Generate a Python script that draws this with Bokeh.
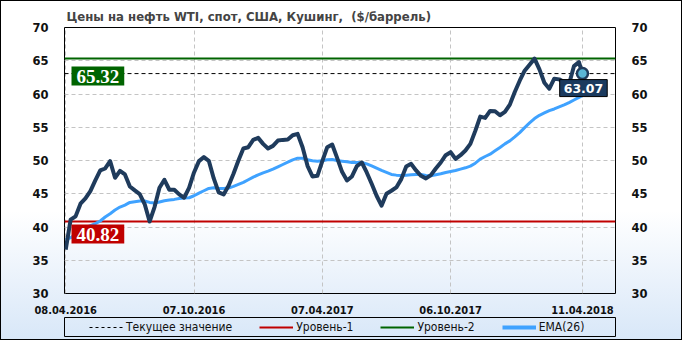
import pandas as pd
from bokeh.plotting import figure
from bokeh.layouts import column
from bokeh.models import (Range1d, LinearAxis, FixedTicker, DatetimeTickFormatter,
                          Label, Legend, LegendItem)
from bokeh.embed import file_html
from bokeh.resources import INLINE

# ---------------- data ----------------
title_text = "Цены на нефть WTI, спот, США, Кушинг,\u00a0 ($/баррель)"
week_start = "2016-04-08"
n_weeks = 105
last_date = "2018-04-11"

prices = [
    36.6, 41.1, 41.6, 43.5, 44.3, 45.4, 47.0, 48.5, 48.8, 49.9,
    47.4, 48.45, 47.9, 46.1, 45.5, 44.95, 43.45, 40.82, 43.0, 45.9,
    47.1, 45.6, 45.6, 44.9, 44.4, 45.9, 48.2, 49.9, 50.5, 49.95,
    47.3, 45.2, 44.9, 46.2, 48.0, 50.0, 51.8, 52.0, 53.1, 53.4,
    52.5, 51.8, 52.2, 53.0, 53.1, 53.15, 53.8, 54.0, 52.0, 49.2,
    47.6, 47.7, 49.9, 52.0, 52.4, 50.4, 48.3, 47.0, 47.6, 49.15,
    49.7, 48.2, 46.5, 44.7, 43.2, 45.0, 45.45, 45.95, 47.2, 49.1,
    49.5, 48.5, 47.7, 47.3, 47.8, 48.8, 49.7, 50.8, 51.25, 50.25,
    50.8, 51.5, 52.5, 54.45, 56.6, 56.4, 57.45, 57.4, 56.8, 57.3,
    58.4, 60.3, 62.0, 63.5, 64.4, 65.32, 63.7, 61.7, 60.8, 62.3,
    62.2, 61.8, 61.5, 64.2, 64.8,
]
last_price = 63.07

ema26 = [
    38.1, 38.4, 38.9, 39.4, 39.9, 40.2, 40.5, 40.9, 41.5, 42.0,
    42.55, 43.0, 43.3, 43.7, 43.8, 43.9, 43.9, 43.7, 43.6, 43.75,
    43.95, 44.05, 44.15, 44.3, 44.35, 44.4, 44.7, 45.1, 45.45, 45.8,
    45.9, 45.8, 45.8, 45.85, 46.1, 46.4, 46.7, 47.1, 47.5, 47.85,
    48.15, 48.4, 48.7, 49.05, 49.4, 49.75, 50.1, 50.35, 50.35, 50.1,
    49.95, 49.9, 49.95, 50.1, 50.15, 50.0, 49.9, 49.8, 49.7, 49.7,
    49.7, 49.5, 49.2, 48.85, 48.5, 48.2, 47.9, 47.8, 47.75, 47.8,
    47.85, 47.9, 47.9, 47.75, 47.7, 47.85, 48.0, 48.2, 48.35, 48.5,
    48.7, 48.9, 49.15, 49.6, 50.2, 50.6, 50.95, 51.45, 51.95, 52.5,
    52.95, 53.55, 54.2, 54.95, 55.65, 56.3, 56.8, 57.15, 57.5, 57.75,
    58.05, 58.35, 58.7, 59.1, 59.5,
]
last_ema = 59.8

level1 = 40.82
level2 = 65.32

tick_dates = ["2016-04-08", "2016-10-07", "2017-04-07", "2017-10-06", "2018-04-11"]
y_ticks = [30, 35, 40, 45, 50, 55, 60, 65, 70]
legend_labels = ["Текущее значение", "Уровень-1", "Уровень-2", "EMA(26)"]

# ---------------- styles ----------------
C_PRICE = "#1f3b5c"
C_EMA = "#3fa2ff"
C_L1 = "#c00000"
C_L2 = "#006400"
TICK_FONT = "DejaVu Sans"
COND = "DejaVu Sans Condensed"

dates = list(pd.date_range(week_start, periods=n_weeks, freq="7D")) + [pd.Timestamp(last_date)]
y_all = prices + [last_price]
ema_all = ema26 + [last_ema]

x_start = pd.Timestamp("2016-04-06 07:00")
x_end = pd.Timestamp("2018-05-27 21:00")

p = figure(width=682, height=316, x_axis_type="datetime",
           x_range=Range1d(x_start, x_end), y_range=Range1d(30, 70),
           output_backend="svg", toolbar_location=None,
           min_border_left=64, min_border_right=67, min_border_top=27, min_border_bottom=20)
p.border_fill_color = None
p.background_fill_color = None
p.outline_line_color = "black"
p.outline_line_width = 1

p.title.text = title_text
p.title.text_font = COND
p.title.text_font_size = "13px"
p.title.text_font_style = "bold"
p.title.align = "left"
p.title.offset = 2
p.title.standoff = 8

tick_ms = [pd.Timestamp(d).value / 1e6 for d in tick_dates]
xt = FixedTicker(ticks=tick_ms)
p.xaxis.ticker = xt
p.xgrid.ticker = xt
fmt = "%d.%m.%Y"
p.xaxis.formatter = DatetimeTickFormatter(milliseconds=fmt, seconds=fmt, minsec=fmt, minutes=fmt,
                                          hourmin=fmt, hours=fmt, days=fmt, months=fmt, years=fmt)
yt = FixedTicker(ticks=y_ticks)
p.yaxis.ticker = yt
p.ygrid.ticker = yt
p.add_layout(LinearAxis(ticker=yt), "right")

for ax in p.axis:
    ax.axis_line_color = None
    ax.major_tick_line_color = None
    ax.minor_tick_line_color = None
    ax.major_label_text_font = TICK_FONT
    ax.major_label_text_font_style = "bold"
    ax.major_label_text_font_size = "11.5px"
    ax.major_label_text_color = "#111111"
    ax.major_label_standoff = 10
p.xaxis.major_label_text_font = COND
p.xaxis.major_label_text_font_size = "11px"
p.xaxis.major_label_standoff = 6

for g in (p.xgrid, p.ygrid):
    g.grid_line_color = "#c4c4c4"
    g.grid_line_dash = "4 3"
    g.grid_line_width = 1

xs_full = [x_start, x_end]
p.line(xs_full, [level1, level1], line_color=C_L1, line_width=2)
p.line(xs_full, [level2, level2], line_color=C_L2, line_width=2)
p.line(xs_full, [last_price, last_price], line_color="black", line_width=1, line_dash="4 3")
p.line(dates, ema_all, line_color=C_EMA, line_width=3)
p.line(dates, y_all, line_color=C_PRICE, line_width=4, line_join="round")
p.scatter([pd.Timestamp(last_date)], [last_price], size=11, fill_color="#5ab6d6",
          line_color=C_PRICE, line_width=2.5)

p.add_layout(Label(x=x_start, y=level2, x_offset=7, y_offset=-8, text=f"{level2:.2f}",
                   text_font="Liberation Serif", text_font_style="bold", text_font_size="19px",
                   text_color="white", text_align="left", text_baseline="top",
                   background_fill_color=C_L2, padding=(5, 3)))
p.add_layout(Label(x=x_start, y=level1, x_offset=7, y_offset=-3, text=f"{level1:.2f}",
                   text_font="Liberation Serif", text_font_style="bold", text_font_size="19px",
                   text_color="white", text_align="left", text_baseline="top",
                   background_fill_color=C_L1, padding=(5, 3)))
p.add_layout(Label(x=pd.Timestamp(last_date), y=last_price, x_offset=1, y_offset=-6,
                   text=f"{last_price:.2f}",
                   text_font=TICK_FONT, text_font_style="bold", text_font_size="12.5px",
                   text_color="white", text_align="center", text_baseline="top",
                   background_fill_color="#1b3a5e", border_line_color="black", padding=(4, 4)))

# ---------------- legend strip ----------------
q = figure(width=682, height=24, x_range=Range1d(0, 1), y_range=Range1d(0, 1),
           output_backend="svg", toolbar_location=None,
           x_axis_location=None, y_axis_location=None,
           min_border_left=64, min_border_right=67, min_border_top=1, min_border_bottom=4)
q.border_fill_color = None
q.background_fill_color = None
q.outline_line_color = "black"
q.grid.visible = False
off = [2, 3]  # swatch renderers sit outside the strip's range; only the legend shows them
g_cur = q.line(off, off, line_color="black", line_width=1, line_dash="3 3")
g_l1 = q.line(off, off, line_color=C_L1, line_width=2)
g_l2 = q.line(off, off, line_color=C_L2, line_width=2)
g_ema = q.line(off, off, line_color=C_EMA, line_width=4)
legend = Legend(items=[LegendItem(label=legend_labels[0], renderers=[g_cur]),
                       LegendItem(label=legend_labels[1], renderers=[g_l1]),
                       LegendItem(label=legend_labels[2], renderers=[g_l2]),
                       LegendItem(label=legend_labels[3], renderers=[g_ema])],
                orientation="horizontal", location=(25, 2),
                label_text_font=COND, label_text_font_size="12px", label_text_color="#111111",
                glyph_width=34, glyph_height=14, label_height=14, label_standoff=3,
                spacing=27, padding=0, margin=0,
                border_line_color=None, background_fill_color=None, background_fill_alpha=0)
q.add_layout(legend, "center")

layout = column(p, q, spacing=0)
layout.styles = {"background": "linear-gradient(to bottom, #ffffff 0%, #ffffff 62%, #d8e7f8 100%)",
                 "outline": "1px solid #000", "outline-offset": "-1px"}

open("out.html", "w").write(file_html(layout, INLINE))
